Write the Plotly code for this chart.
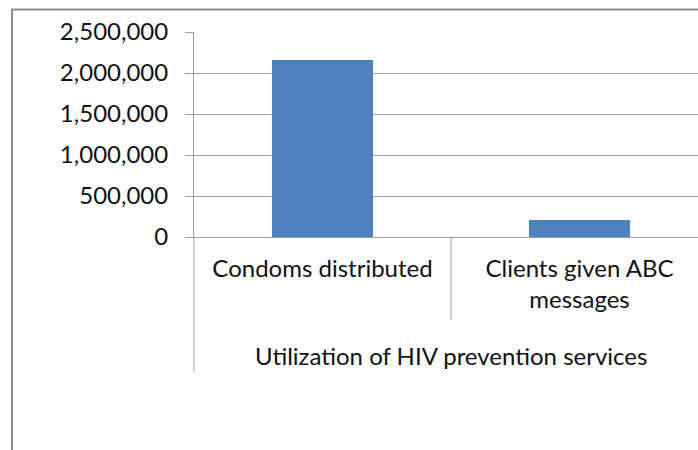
import plotly.graph_objects as go

categories = ["Condoms distributed", "Clients given ABC<br>messages"]
values = [2160000, 207000]
group_label = "Utilization of HIV prevention services"
tick_vals = [0, 500000, 1000000, 1500000, 2000000, 2500000]
tick_text = ["0", "500,000", "1,000,000", "1,500,000", "2,000,000", "2,500,000"]

FONT = "Lato"
FS = 24
TXT = "#111111"
GRID = "#a0a0a0"

W, H = 698, 450
L, T, B = 194, 32, 450 - 237
plot_w = W - L
cat_w = 257.0
x_max = -0.5 + plot_w / cat_w
plot_h = H - T - B

def py(px):
    return (H - B - px) / plot_h

def pxp(px):
    return (px - L) / plot_w

fig = go.Figure(go.Bar(
    x=[0, 1], y=values, width=0.393,
    marker=dict(color="#4F81BD", line=dict(width=0)),
))

fig.update_layout(
    width=W, height=H,
    margin=dict(l=L, r=0, t=T, b=B, pad=0),
    paper_bgcolor="white", plot_bgcolor="white",
    showlegend=False,
    font=dict(family=FONT, size=FS, color=TXT),
    xaxis=dict(
        range=[-0.5, x_max], tickmode="array", tickvals=[0, 1], ticktext=categories,
        showgrid=False, zeroline=False, showline=True, linecolor=GRID, linewidth=1,
        ticks="", ticklabelstandoff=10, fixedrange=True,
        tickfont=dict(family=FONT, size=FS, color=TXT),
    ),
    yaxis=dict(
        range=[0, 2500000], tickmode="array", tickvals=tick_vals, ticktext=tick_text,
        showgrid=True, gridcolor=GRID, gridwidth=1, zeroline=False,
        showline=True, linecolor=GRID, linewidth=1,
        ticks="outside", ticklen=8, tickcolor=GRID, tickwidth=1,
        ticklabelstandoff=12, fixedrange=True,
        tickfont=dict(family=FONT, size=FS, color=TXT),
    ),
    shapes=[
        dict(type="rect", xref="paper", yref="paper",
             x0=pxp(12), x1=pxp(760), y0=py(520), y1=py(9.5),
             line=dict(color="#8c8c8c", width=2), fillcolor="rgba(0,0,0,0)", layer="above"),
        dict(type="line", xref="paper", yref="paper",
             x0=0, x1=0, y0=0, y1=py(372),
             line=dict(color=GRID, width=1)),
        dict(type="line", xref="x", yref="paper",
             x0=0.5, x1=0.5, y0=0, y1=py(320),
             line=dict(color=GRID, width=1)),
    ],
    annotations=[
        dict(text=group_label, x=0.5, xref="x", y=py(355), yref="paper",
             showarrow=False, xanchor="center", yanchor="middle",
             font=dict(family=FONT, size=FS, color=TXT)),
    ],
)

fig.write_html("out.html")
